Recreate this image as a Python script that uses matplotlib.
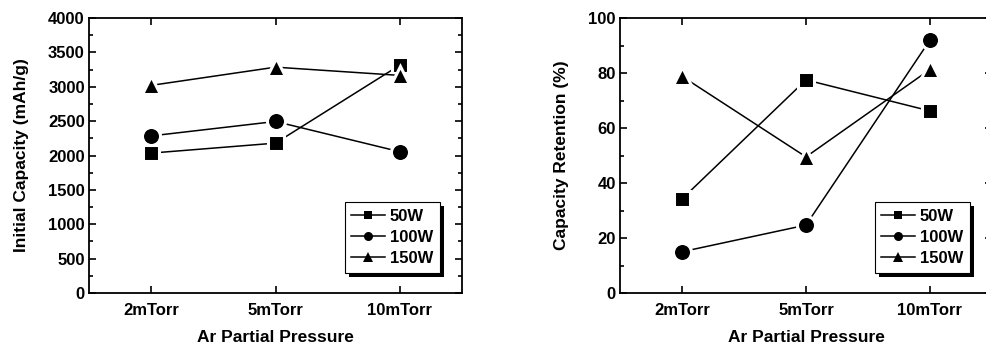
import numpy as np
import matplotlib.pyplot as plt
from matplotlib.patches import Rectangle
from matplotlib.ticker import MultipleLocator

plt.rcParams['font.family'] = ['Liberation Sans', 'DejaVu Sans']
plt.rcParams['font.weight'] = 'bold'

pressures = ['2mTorr', '5mTorr', '10mTorr']
powers = ['50W', '100W', '150W']
markers = ['s', 'o', '^']

# initial capacity (mAh/g)
cap_50w = [2035, 2180, 3315]
cap_100w = [2285, 2495, 2055]
cap_150w = [3020, 3285, 3165]

# capacity retention (%)
ret_50w = [34.2, 77.5, 66.2]
ret_100w = [15.0, 24.7, 92.0]
ret_150w = [78.8, 49.5, 81.3]

fig = plt.figure(figsize=(9.87, 3.47), dpi=100)
W, H = 987, 347
ax1 = fig.add_axes([89 / W, 1 - 293 / H, (462 - 89) / W, (293 - 18) / H])
ax2 = fig.add_axes([620 / W, 1 - 293 / H, (992 - 620) / W, (293 - 18) / H])


def draw(ax, series, ylim, major, minor, ylabel):
    x = np.arange(len(pressures))
    sizes = {'s': 12, 'o': 13, '^': 13.5}
    for vals, m, lab in zip(series, markers, powers):
        ax.plot(x, vals, color='k', lw=1.1, marker=m, ms=sizes[m],
                mfc='k', mec='white', mew=2.2, label=lab)
    ax.set_xlim(-0.5, 2.5)
    ax.set_ylim(*ylim)
    ax.set_xticks(x)
    ax.set_xticklabels(pressures)
    ax.yaxis.set_major_locator(MultipleLocator(major))
    ax.yaxis.set_minor_locator(MultipleLocator(minor))
    ax.tick_params(which='both', direction='in', top=True, right=True,
                   labelsize=12, width=1.2)
    ax.tick_params(which='major', length=5, pad=3)
    ax.tick_params(which='minor', length=3)
    ax.tick_params(axis='x', which='major', pad=7)
    for s in ax.spines.values():
        s.set_linewidth(1.3)
    for t in ax.get_xticklabels() + ax.get_yticklabels():
        t.set_fontweight('bold')
    ax.set_xlabel('Ar Partial Pressure', fontsize=12.5, fontweight='bold', labelpad=9)
    ax.set_ylabel(ylabel, fontsize=12.5, fontweight='bold', labelpad=14)
    leg = ax.legend(loc='lower right', bbox_to_anchor=(0.94, 0.073),
                    fontsize=12, markerscale=0.5, handlelength=2.0,
                    handletextpad=0.3, labelspacing=0.38, borderpad=0.4,
                    borderaxespad=0, frameon=False)
    leg.set_zorder(10)
    for t in leg.get_texts():
        t.set_fontweight('bold')
    for h in leg.legend_handles:
        h.set_markeredgewidth(0)
    return leg


legs = [draw(ax1, [cap_50w, cap_100w, cap_150w], (0, 4000), 500, 250,
             'Initial Capacity (mAh/g)'),
        draw(ax2, [ret_50w, ret_100w, ret_150w], (0, 100), 20, 10,
             'Capacity Retention (%)')]

# legend frame with a solid drop shadow, placed in axes coordinates
fig.canvas.draw()
for ax, leg in zip([ax1, ax2], legs):
    bb = leg.get_window_extent().transformed(ax.transAxes.inverted())
    axbb = ax.get_window_extent()
    dx, dy = 4.5 / axbb.width, 4.5 / axbb.height
    shadow = Rectangle((bb.x0 + dx, bb.y0 - dy), bb.width, bb.height,
                       transform=ax.transAxes, facecolor='black',
                       edgecolor='black', linewidth=0, zorder=8, clip_on=False)
    frame = Rectangle((bb.x0, bb.y0), bb.width, bb.height,
                      transform=ax.transAxes, facecolor='white',
                      edgecolor='black', linewidth=0.8, zorder=9, clip_on=False)
    ax.add_patch(shadow)
    ax.add_patch(frame)

fig.savefig('out.png', dpi=100)
